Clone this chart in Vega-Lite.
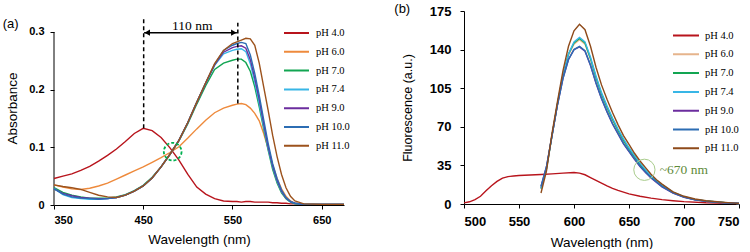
{
"$schema": "https://vega.github.io/schema/vega-lite/v6.json",
"background": "white",
"padding": {"left": 2, "top": 2, "right": 0, "bottom": 0},
"spacing": 44,
"align": "none",
"config": {
  "view": {"stroke": null},
  "axis": {"grid": false, "domainColor": "#000", "tickColor": "#000", "labelColor": "#000", "titleColor": "#000", "labelFont": "Liberation Sans", "labelFontWeight": "bold", "titleFont": "Liberation Sans", "titleFontWeight": "normal", "tickSize": 4, "domainWidth": 1, "labelOverlap": false},
  "title": {"font": "Liberation Sans", "fontSize": 13.5, "fontWeight": "normal", "color": "#000"}
},
"resolve": {"scale": {"color": "independent", "x": "independent", "y": "independent"}, "legend": {"color": "independent"}},
"datasets": {
"abs": [
{"p":"pH 4.0","w":350,"a":0.046},{"p":"pH 4.0","w":360,"a":0.050},{"p":"pH 4.0","w":370,"a":0.054},{"p":"pH 4.0","w":380,"a":0.060},{"p":"pH 4.0","w":390,"a":0.067},{"p":"pH 4.0","w":400,"a":0.076},{"p":"pH 4.0","w":410,"a":0.086},{"p":"pH 4.0","w":420,"a":0.097},{"p":"pH 4.0","w":430,"a":0.110},{"p":"pH 4.0","w":440,"a":0.124},{"p":"pH 4.0","w":450,"a":0.133},{"p":"pH 4.0","w":460,"a":0.129},{"p":"pH 4.0","w":470,"a":0.117},{"p":"pH 4.0","w":480,"a":0.099},{"p":"pH 4.0","w":490,"a":0.078},{"p":"pH 4.0","w":500,"a":0.053},{"p":"pH 4.0","w":510,"a":0.031},{"p":"pH 4.0","w":520,"a":0.019},{"p":"pH 4.0","w":530,"a":0.011},{"p":"pH 4.0","w":540,"a":0.007},{"p":"pH 4.0","w":550,"a":0.006},{"p":"pH 4.0","w":555,"a":0.006},{"p":"pH 4.0","w":560,"a":0.005},{"p":"pH 4.0","w":565,"a":0.006},{"p":"pH 4.0","w":570,"a":0.006},{"p":"pH 4.0","w":575,"a":0.005},{"p":"pH 4.0","w":580,"a":0.005},{"p":"pH 4.0","w":585,"a":0.005},{"p":"pH 4.0","w":590,"a":0.005},{"p":"pH 4.0","w":595,"a":0.004},{"p":"pH 4.0","w":600,"a":0.004},{"p":"pH 4.0","w":605,"a":0.003},{"p":"pH 4.0","w":610,"a":0.003},{"p":"pH 4.0","w":615,"a":0.002},{"p":"pH 4.0","w":620,"a":0.002},{"p":"pH 4.0","w":630,"a":0.001},{"p":"pH 4.0","w":650,"a":0.001},{"p":"pH 4.0","w":675,"a":0.001},
{"p":"pH 6.0","w":350,"a":0.035},{"p":"pH 6.0","w":360,"a":0.031},{"p":"pH 6.0","w":370,"a":0.028},{"p":"pH 6.0","w":380,"a":0.027},{"p":"pH 6.0","w":390,"a":0.029},{"p":"pH 6.0","w":400,"a":0.033},{"p":"pH 6.0","w":410,"a":0.038},{"p":"pH 6.0","w":420,"a":0.045},{"p":"pH 6.0","w":430,"a":0.052},{"p":"pH 6.0","w":440,"a":0.059},{"p":"pH 6.0","w":450,"a":0.066},{"p":"pH 6.0","w":460,"a":0.074},{"p":"pH 6.0","w":470,"a":0.082},{"p":"pH 6.0","w":480,"a":0.091},{"p":"pH 6.0","w":490,"a":0.101},{"p":"pH 6.0","w":500,"a":0.116},{"p":"pH 6.0","w":510,"a":0.132},{"p":"pH 6.0","w":520,"a":0.147},{"p":"pH 6.0","w":530,"a":0.160},{"p":"pH 6.0","w":540,"a":0.168},{"p":"pH 6.0","w":550,"a":0.173},{"p":"pH 6.0","w":555,"a":0.175},{"p":"pH 6.0","w":560,"a":0.176},{"p":"pH 6.0","w":565,"a":0.174},{"p":"pH 6.0","w":570,"a":0.168},{"p":"pH 6.0","w":575,"a":0.159},{"p":"pH 6.0","w":580,"a":0.146},{"p":"pH 6.0","w":585,"a":0.124},{"p":"pH 6.0","w":590,"a":0.098},{"p":"pH 6.0","w":595,"a":0.070},{"p":"pH 6.0","w":600,"a":0.046},{"p":"pH 6.0","w":605,"a":0.028},{"p":"pH 6.0","w":610,"a":0.015},{"p":"pH 6.0","w":615,"a":0.007},{"p":"pH 6.0","w":620,"a":0.003},{"p":"pH 6.0","w":630,"a":0.002},{"p":"pH 6.0","w":650,"a":0.001},{"p":"pH 6.0","w":675,"a":0.001},
{"p":"pH 7.0","w":350,"a":0.030},{"p":"pH 7.0","w":360,"a":0.022},{"p":"pH 7.0","w":370,"a":0.017},{"p":"pH 7.0","w":380,"a":0.014},{"p":"pH 7.0","w":390,"a":0.012},{"p":"pH 7.0","w":400,"a":0.012},{"p":"pH 7.0","w":410,"a":0.012},{"p":"pH 7.0","w":420,"a":0.014},{"p":"pH 7.0","w":430,"a":0.018},{"p":"pH 7.0","w":440,"a":0.025},{"p":"pH 7.0","w":450,"a":0.034},{"p":"pH 7.0","w":460,"a":0.048},{"p":"pH 7.0","w":470,"a":0.066},{"p":"pH 7.0","w":480,"a":0.088},{"p":"pH 7.0","w":490,"a":0.111},{"p":"pH 7.0","w":500,"a":0.141},{"p":"pH 7.0","w":510,"a":0.175},{"p":"pH 7.0","w":520,"a":0.207},{"p":"pH 7.0","w":530,"a":0.235},{"p":"pH 7.0","w":540,"a":0.246},{"p":"pH 7.0","w":550,"a":0.251},{"p":"pH 7.0","w":555,"a":0.253},{"p":"pH 7.0","w":560,"a":0.253},{"p":"pH 7.0","w":565,"a":0.247},{"p":"pH 7.0","w":570,"a":0.232},{"p":"pH 7.0","w":575,"a":0.205},{"p":"pH 7.0","w":580,"a":0.170},{"p":"pH 7.0","w":585,"a":0.132},{"p":"pH 7.0","w":590,"a":0.095},{"p":"pH 7.0","w":595,"a":0.062},{"p":"pH 7.0","w":600,"a":0.038},{"p":"pH 7.0","w":605,"a":0.021},{"p":"pH 7.0","w":610,"a":0.011},{"p":"pH 7.0","w":615,"a":0.005},{"p":"pH 7.0","w":620,"a":0.002},{"p":"pH 7.0","w":630,"a":0.001},{"p":"pH 7.0","w":650,"a":0.001},{"p":"pH 7.0","w":675,"a":0.001},
{"p":"pH 7.4","w":350,"a":0.029},{"p":"pH 7.4","w":360,"a":0.018},{"p":"pH 7.4","w":370,"a":0.013},{"p":"pH 7.4","w":380,"a":0.011},{"p":"pH 7.4","w":390,"a":0.010},{"p":"pH 7.4","w":400,"a":0.010},{"p":"pH 7.4","w":410,"a":0.011},{"p":"pH 7.4","w":420,"a":0.013},{"p":"pH 7.4","w":430,"a":0.017},{"p":"pH 7.4","w":440,"a":0.024},{"p":"pH 7.4","w":450,"a":0.033},{"p":"pH 7.4","w":460,"a":0.047},{"p":"pH 7.4","w":470,"a":0.066},{"p":"pH 7.4","w":480,"a":0.088},{"p":"pH 7.4","w":490,"a":0.112},{"p":"pH 7.4","w":500,"a":0.143},{"p":"pH 7.4","w":510,"a":0.178},{"p":"pH 7.4","w":520,"a":0.211},{"p":"pH 7.4","w":530,"a":0.242},{"p":"pH 7.4","w":540,"a":0.262},{"p":"pH 7.4","w":550,"a":0.268},{"p":"pH 7.4","w":555,"a":0.270},{"p":"pH 7.4","w":560,"a":0.271},{"p":"pH 7.4","w":565,"a":0.266},{"p":"pH 7.4","w":570,"a":0.245},{"p":"pH 7.4","w":575,"a":0.213},{"p":"pH 7.4","w":580,"a":0.176},{"p":"pH 7.4","w":585,"a":0.136},{"p":"pH 7.4","w":590,"a":0.098},{"p":"pH 7.4","w":595,"a":0.066},{"p":"pH 7.4","w":600,"a":0.041},{"p":"pH 7.4","w":605,"a":0.023},{"p":"pH 7.4","w":610,"a":0.012},{"p":"pH 7.4","w":615,"a":0.006},{"p":"pH 7.4","w":620,"a":0.003},{"p":"pH 7.4","w":630,"a":0.001},{"p":"pH 7.4","w":650,"a":0.001},{"p":"pH 7.4","w":675,"a":0.001},
{"p":"pH 9.0","w":350,"a":0.028},{"p":"pH 9.0","w":360,"a":0.020},{"p":"pH 9.0","w":370,"a":0.016},{"p":"pH 9.0","w":380,"a":0.013},{"p":"pH 9.0","w":390,"a":0.012},{"p":"pH 9.0","w":400,"a":0.011},{"p":"pH 9.0","w":410,"a":0.011},{"p":"pH 9.0","w":420,"a":0.013},{"p":"pH 9.0","w":430,"a":0.017},{"p":"pH 9.0","w":440,"a":0.024},{"p":"pH 9.0","w":450,"a":0.033},{"p":"pH 9.0","w":460,"a":0.047},{"p":"pH 9.0","w":470,"a":0.066},{"p":"pH 9.0","w":480,"a":0.088},{"p":"pH 9.0","w":490,"a":0.112},{"p":"pH 9.0","w":500,"a":0.143},{"p":"pH 9.0","w":510,"a":0.178},{"p":"pH 9.0","w":520,"a":0.211},{"p":"pH 9.0","w":530,"a":0.243},{"p":"pH 9.0","w":540,"a":0.265},{"p":"pH 9.0","w":550,"a":0.273},{"p":"pH 9.0","w":555,"a":0.275},{"p":"pH 9.0","w":560,"a":0.276},{"p":"pH 9.0","w":565,"a":0.272},{"p":"pH 9.0","w":570,"a":0.252},{"p":"pH 9.0","w":575,"a":0.220},{"p":"pH 9.0","w":580,"a":0.183},{"p":"pH 9.0","w":585,"a":0.141},{"p":"pH 9.0","w":590,"a":0.101},{"p":"pH 9.0","w":595,"a":0.068},{"p":"pH 9.0","w":600,"a":0.043},{"p":"pH 9.0","w":605,"a":0.024},{"p":"pH 9.0","w":610,"a":0.012},{"p":"pH 9.0","w":615,"a":0.006},{"p":"pH 9.0","w":620,"a":0.003},{"p":"pH 9.0","w":630,"a":0.001},{"p":"pH 9.0","w":650,"a":0.001},{"p":"pH 9.0","w":675,"a":0.001},
{"p":"pH 10.0","w":350,"a":0.028},{"p":"pH 10.0","w":360,"a":0.019},{"p":"pH 10.0","w":370,"a":0.014},{"p":"pH 10.0","w":380,"a":0.012},{"p":"pH 10.0","w":390,"a":0.011},{"p":"pH 10.0","w":400,"a":0.010},{"p":"pH 10.0","w":410,"a":0.011},{"p":"pH 10.0","w":420,"a":0.013},{"p":"pH 10.0","w":430,"a":0.017},{"p":"pH 10.0","w":440,"a":0.024},{"p":"pH 10.0","w":450,"a":0.033},{"p":"pH 10.0","w":460,"a":0.047},{"p":"pH 10.0","w":470,"a":0.066},{"p":"pH 10.0","w":480,"a":0.088},{"p":"pH 10.0","w":490,"a":0.112},{"p":"pH 10.0","w":500,"a":0.143},{"p":"pH 10.0","w":510,"a":0.178},{"p":"pH 10.0","w":520,"a":0.212},{"p":"pH 10.0","w":530,"a":0.244},{"p":"pH 10.0","w":540,"a":0.268},{"p":"pH 10.0","w":550,"a":0.277},{"p":"pH 10.0","w":555,"a":0.280},{"p":"pH 10.0","w":560,"a":0.282},{"p":"pH 10.0","w":565,"a":0.280},{"p":"pH 10.0","w":570,"a":0.260},{"p":"pH 10.0","w":575,"a":0.228},{"p":"pH 10.0","w":580,"a":0.190},{"p":"pH 10.0","w":585,"a":0.148},{"p":"pH 10.0","w":590,"a":0.107},{"p":"pH 10.0","w":595,"a":0.072},{"p":"pH 10.0","w":600,"a":0.046},{"p":"pH 10.0","w":605,"a":0.026},{"p":"pH 10.0","w":610,"a":0.013},{"p":"pH 10.0","w":615,"a":0.006},{"p":"pH 10.0","w":620,"a":0.003},{"p":"pH 10.0","w":630,"a":0.001},{"p":"pH 10.0","w":650,"a":0.001},{"p":"pH 10.0","w":675,"a":0.001},
{"p":"pH 11.0","w":350,"a":0.035},{"p":"pH 11.0","w":360,"a":0.032},{"p":"pH 11.0","w":370,"a":0.030},{"p":"pH 11.0","w":380,"a":0.027},{"p":"pH 11.0","w":390,"a":0.022},{"p":"pH 11.0","w":400,"a":0.017},{"p":"pH 11.0","w":410,"a":0.014},{"p":"pH 11.0","w":420,"a":0.013},{"p":"pH 11.0","w":430,"a":0.017},{"p":"pH 11.0","w":440,"a":0.024},{"p":"pH 11.0","w":450,"a":0.033},{"p":"pH 11.0","w":460,"a":0.047},{"p":"pH 11.0","w":470,"a":0.066},{"p":"pH 11.0","w":480,"a":0.088},{"p":"pH 11.0","w":490,"a":0.112},{"p":"pH 11.0","w":500,"a":0.143},{"p":"pH 11.0","w":510,"a":0.178},{"p":"pH 11.0","w":520,"a":0.212},{"p":"pH 11.0","w":530,"a":0.245},{"p":"pH 11.0","w":540,"a":0.268},{"p":"pH 11.0","w":550,"a":0.280},{"p":"pH 11.0","w":555,"a":0.283},{"p":"pH 11.0","w":560,"a":0.286},{"p":"pH 11.0","w":565,"a":0.289},{"p":"pH 11.0","w":570,"a":0.288},{"p":"pH 11.0","w":575,"a":0.277},{"p":"pH 11.0","w":580,"a":0.246},{"p":"pH 11.0","w":585,"a":0.205},{"p":"pH 11.0","w":590,"a":0.164},{"p":"pH 11.0","w":595,"a":0.121},{"p":"pH 11.0","w":600,"a":0.084},{"p":"pH 11.0","w":605,"a":0.053},{"p":"pH 11.0","w":610,"a":0.030},{"p":"pH 11.0","w":615,"a":0.015},{"p":"pH 11.0","w":620,"a":0.007},{"p":"pH 11.0","w":630,"a":0.002},{"p":"pH 11.0","w":650,"a":0.001},{"p":"pH 11.0","w":675,"a":0.001}
],
"fl": [
{"p":"pH 4.0","w":500,"f":1},{"p":"pH 4.0","w":505,"f":2},{"p":"pH 4.0","w":510,"f":4},{"p":"pH 4.0","w":515,"f":7},{"p":"pH 4.0","w":520,"f":12},{"p":"pH 4.0","w":525,"f":16.5},{"p":"pH 4.0","w":530,"f":20.5},{"p":"pH 4.0","w":535,"f":23.5},{"p":"pH 4.0","w":540,"f":24.8},{"p":"pH 4.0","w":545,"f":25.4},{"p":"pH 4.0","w":550,"f":25.8},{"p":"pH 4.0","w":560,"f":26.3},{"p":"pH 4.0","w":570,"f":26.8},{"p":"pH 4.0","w":580,"f":27.3},{"p":"pH 4.0","w":590,"f":28},{"p":"pH 4.0","w":600,"f":28.6},{"p":"pH 4.0","w":605,"f":28},{"p":"pH 4.0","w":610,"f":26.5},{"p":"pH 4.0","w":615,"f":24},{"p":"pH 4.0","w":620,"f":21.5},{"p":"pH 4.0","w":625,"f":19},{"p":"pH 4.0","w":630,"f":16.5},{"p":"pH 4.0","w":635,"f":14.2},{"p":"pH 4.0","w":640,"f":12.3},{"p":"pH 4.0","w":650,"f":9.2},{"p":"pH 4.0","w":660,"f":7},{"p":"pH 4.0","w":670,"f":5.3},{"p":"pH 4.0","w":680,"f":4},{"p":"pH 4.0","w":690,"f":3},{"p":"pH 4.0","w":700,"f":2.2},{"p":"pH 4.0","w":720,"f":1.1},{"p":"pH 4.0","w":740,"f":0.6},{"p":"pH 4.0","w":750,"f":0.4},
{"p":"pH 6.0","w":570,"f":14},{"p":"pH 6.0","w":575,"f":32},{"p":"pH 6.0","w":580,"f":62},{"p":"pH 6.0","w":585,"f":91},{"p":"pH 6.0","w":590,"f":116},{"p":"pH 6.0","w":595,"f":135},{"p":"pH 6.0","w":600,"f":145},{"p":"pH 6.0","w":605,"f":149},{"p":"pH 6.0","w":610,"f":145},{"p":"pH 6.0","w":615,"f":131},{"p":"pH 6.0","w":620,"f":114},{"p":"pH 6.0","w":625,"f":99},{"p":"pH 6.0","w":630,"f":87},{"p":"pH 6.0","w":635,"f":76},{"p":"pH 6.0","w":640,"f":66},{"p":"pH 6.0","w":645,"f":57},{"p":"pH 6.0","w":650,"f":49},{"p":"pH 6.0","w":655,"f":42},{"p":"pH 6.0","w":660,"f":35.5},{"p":"pH 6.0","w":665,"f":29.5},{"p":"pH 6.0","w":670,"f":24.5},{"p":"pH 6.0","w":675,"f":20.5},{"p":"pH 6.0","w":680,"f":16.5},{"p":"pH 6.0","w":690,"f":10.3},{"p":"pH 6.0","w":700,"f":6.4},{"p":"pH 6.0","w":710,"f":4},{"p":"pH 6.0","w":720,"f":2.7},{"p":"pH 6.0","w":730,"f":1.8},{"p":"pH 6.0","w":740,"f":1},{"p":"pH 6.0","w":750,"f":0.5},
{"p":"pH 7.0","w":570,"f":14},{"p":"pH 7.0","w":575,"f":32},{"p":"pH 7.0","w":580,"f":62},{"p":"pH 7.0","w":585,"f":91},{"p":"pH 7.0","w":590,"f":117},{"p":"pH 7.0","w":595,"f":136},{"p":"pH 7.0","w":600,"f":146},{"p":"pH 7.0","w":605,"f":150},{"p":"pH 7.0","w":610,"f":146},{"p":"pH 7.0","w":615,"f":132},{"p":"pH 7.0","w":620,"f":115},{"p":"pH 7.0","w":625,"f":100},{"p":"pH 7.0","w":630,"f":88},{"p":"pH 7.0","w":635,"f":77},{"p":"pH 7.0","w":640,"f":67},{"p":"pH 7.0","w":645,"f":58},{"p":"pH 7.0","w":650,"f":50},{"p":"pH 7.0","w":655,"f":43},{"p":"pH 7.0","w":660,"f":36},{"p":"pH 7.0","w":665,"f":30},{"p":"pH 7.0","w":670,"f":25},{"p":"pH 7.0","w":675,"f":21},{"p":"pH 7.0","w":680,"f":17},{"p":"pH 7.0","w":690,"f":10.5},{"p":"pH 7.0","w":700,"f":6.5},{"p":"pH 7.0","w":710,"f":4},{"p":"pH 7.0","w":720,"f":2.7},{"p":"pH 7.0","w":730,"f":1.8},{"p":"pH 7.0","w":740,"f":1},{"p":"pH 7.0","w":750,"f":0.5},
{"p":"pH 7.4","w":570,"f":14},{"p":"pH 7.4","w":575,"f":32},{"p":"pH 7.4","w":580,"f":62},{"p":"pH 7.4","w":585,"f":91},{"p":"pH 7.4","w":590,"f":117},{"p":"pH 7.4","w":595,"f":136},{"p":"pH 7.4","w":600,"f":147},{"p":"pH 7.4","w":605,"f":151},{"p":"pH 7.4","w":610,"f":147},{"p":"pH 7.4","w":615,"f":133},{"p":"pH 7.4","w":620,"f":116},{"p":"pH 7.4","w":625,"f":101},{"p":"pH 7.4","w":630,"f":89},{"p":"pH 7.4","w":635,"f":78},{"p":"pH 7.4","w":640,"f":68},{"p":"pH 7.4","w":645,"f":59},{"p":"pH 7.4","w":650,"f":51},{"p":"pH 7.4","w":655,"f":44},{"p":"pH 7.4","w":660,"f":37},{"p":"pH 7.4","w":665,"f":31},{"p":"pH 7.4","w":670,"f":25.5},{"p":"pH 7.4","w":675,"f":21.5},{"p":"pH 7.4","w":680,"f":17.5},{"p":"pH 7.4","w":690,"f":10.8},{"p":"pH 7.4","w":700,"f":6.6},{"p":"pH 7.4","w":710,"f":4.1},{"p":"pH 7.4","w":720,"f":2.7},{"p":"pH 7.4","w":730,"f":1.8},{"p":"pH 7.4","w":740,"f":1},{"p":"pH 7.4","w":750,"f":0.5},
{"p":"pH 9.0","w":570,"f":16},{"p":"pH 9.0","w":575,"f":34},{"p":"pH 9.0","w":580,"f":62},{"p":"pH 9.0","w":585,"f":90},{"p":"pH 9.0","w":590,"f":114},{"p":"pH 9.0","w":595,"f":131},{"p":"pH 9.0","w":600,"f":140},{"p":"pH 9.0","w":605,"f":142.5},{"p":"pH 9.0","w":610,"f":138.5},{"p":"pH 9.0","w":615,"f":125.5},{"p":"pH 9.0","w":620,"f":109.5},{"p":"pH 9.0","w":625,"f":95.5},{"p":"pH 9.0","w":630,"f":83.5},{"p":"pH 9.0","w":635,"f":72.5},{"p":"pH 9.0","w":640,"f":63.5},{"p":"pH 9.0","w":645,"f":54.5},{"p":"pH 9.0","w":650,"f":47.5},{"p":"pH 9.0","w":655,"f":40.5},{"p":"pH 9.0","w":660,"f":34},{"p":"pH 9.0","w":665,"f":28.5},{"p":"pH 9.0","w":670,"f":23.5},{"p":"pH 9.0","w":675,"f":19.5},{"p":"pH 9.0","w":680,"f":15.5},{"p":"pH 9.0","w":690,"f":9.8},{"p":"pH 9.0","w":700,"f":6},{"p":"pH 9.0","w":710,"f":3.7},{"p":"pH 9.0","w":720,"f":2.4},{"p":"pH 9.0","w":730,"f":1.5},{"p":"pH 9.0","w":740,"f":1},{"p":"pH 9.0","w":750,"f":0.5},
{"p":"pH 10.0","w":570,"f":16},{"p":"pH 10.0","w":575,"f":34},{"p":"pH 10.0","w":580,"f":62},{"p":"pH 10.0","w":585,"f":90},{"p":"pH 10.0","w":590,"f":114},{"p":"pH 10.0","w":595,"f":131},{"p":"pH 10.0","w":600,"f":140},{"p":"pH 10.0","w":605,"f":143},{"p":"pH 10.0","w":610,"f":139},{"p":"pH 10.0","w":615,"f":126},{"p":"pH 10.0","w":620,"f":110},{"p":"pH 10.0","w":625,"f":96},{"p":"pH 10.0","w":630,"f":84},{"p":"pH 10.0","w":635,"f":73},{"p":"pH 10.0","w":640,"f":64},{"p":"pH 10.0","w":645,"f":55},{"p":"pH 10.0","w":650,"f":48},{"p":"pH 10.0","w":655,"f":41},{"p":"pH 10.0","w":660,"f":34.5},{"p":"pH 10.0","w":665,"f":29},{"p":"pH 10.0","w":670,"f":24},{"p":"pH 10.0","w":675,"f":20},{"p":"pH 10.0","w":680,"f":16},{"p":"pH 10.0","w":690,"f":10},{"p":"pH 10.0","w":700,"f":6.2},{"p":"pH 10.0","w":710,"f":3.8},{"p":"pH 10.0","w":720,"f":2.5},{"p":"pH 10.0","w":730,"f":1.6},{"p":"pH 10.0","w":740,"f":1},{"p":"pH 10.0","w":750,"f":0.5},
{"p":"pH 11.0","w":570,"f":10},{"p":"pH 11.0","w":575,"f":30},{"p":"pH 11.0","w":580,"f":64},{"p":"pH 11.0","w":585,"f":93},{"p":"pH 11.0","w":590,"f":121},{"p":"pH 11.0","w":595,"f":143},{"p":"pH 11.0","w":600,"f":157},{"p":"pH 11.0","w":605,"f":163},{"p":"pH 11.0","w":610,"f":158},{"p":"pH 11.0","w":615,"f":143},{"p":"pH 11.0","w":620,"f":124},{"p":"pH 11.0","w":625,"f":108},{"p":"pH 11.0","w":630,"f":95},{"p":"pH 11.0","w":635,"f":83},{"p":"pH 11.0","w":640,"f":72},{"p":"pH 11.0","w":645,"f":62},{"p":"pH 11.0","w":650,"f":54},{"p":"pH 11.0","w":655,"f":46},{"p":"pH 11.0","w":660,"f":39},{"p":"pH 11.0","w":665,"f":33},{"p":"pH 11.0","w":670,"f":27},{"p":"pH 11.0","w":675,"f":22},{"p":"pH 11.0","w":680,"f":18},{"p":"pH 11.0","w":690,"f":11},{"p":"pH 11.0","w":700,"f":7},{"p":"pH 11.0","w":710,"f":4.5},{"p":"pH 11.0","w":720,"f":3},{"p":"pH 11.0","w":730,"f":2},{"p":"pH 11.0","w":740,"f":1.2},{"p":"pH 11.0","w":750,"f":0.6}
]
},
"hconcat": [
{
  "width": 290, "height": 194,
  "title": {"text": "(a)", "anchor": "start", "frame": "bounds", "offset": -20, "dx": -3, "fontSize": 13},
  "layer": [
    {
      "data": {"values": [{"w": 350, "y1": 0, "y2": 0.3}]},
      "mark": {"type": "rule", "strokeWidth": 1, "color": "#000"},
      "encoding": {"x": {"field": "w", "type": "quantitative"}, "y": {"field": "y1", "type": "quantitative"}, "y2": {"field": "y2"}}
    },
    {
      "data": {"name": "abs"},
      "mark": {"type": "line", "strokeWidth": 1.4},
      "encoding": {
        "x": {"field": "w", "type": "quantitative", "scale": {"domain": [350, 675], "nice": false, "zero": false},
              "axis": {"values": [350, 450, 550, 650], "tickCount": 10, "title": "Wavelength (nm)", "labelFontSize": 11, "titleFontSize": 13.5, "labelPadding": 5, "titlePadding": 7}},
        "y": {"field": "a", "type": "quantitative", "scale": {"domain": [0, 0.3364], "nice": false},
              "axis": {"values": [0, 0.1, 0.2, 0.3], "tickCount": 10, "format": ".1~f", "domain": false, "labelOverlap": false, "title": "Absorbance", "labelFontSize": 11, "titleFontSize": 13.5, "labelPadding": 6, "titlePadding": 9}},
        "color": {"field": "p", "type": "nominal",
          "scale": {"domain": ["pH 4.0", "pH 6.0", "pH 7.0", "pH 7.4", "pH 9.0", "pH 10.0", "pH 11.0"],
                    "range": ["#B8141C", "#EE8A3C", "#12A552", "#38B6E6", "#6B2D9E", "#2C6DB3", "#9C521C"]},
          "legend": {"title": null, "orient": "none", "legendX": 229, "legendY": 17, "symbolType": "stroke", "symbolSize": 625, "symbolStrokeWidth": 2, "clipHeight": 10, "rowPadding": 7.8, "labelFont": "Liberation Serif", "labelFontSize": 10.5, "labelColor": "#000", "labelOffset": 6, "padding": 0}}
      }
    },
    {
      "data": {"values": [{"w": 450.5, "y1": 0.133, "y2": 0.3225}, {"w": 556, "y1": 0.176, "y2": 0.316}]},
      "mark": {"type": "rule", "strokeDash": [4, 3], "strokeWidth": 1.5, "color": "#000"},
      "encoding": {"x": {"field": "w", "type": "quantitative"}, "y": {"field": "y1", "type": "quantitative"}, "y2": {"field": "y2"}}
    },
    {
      "data": {"values": [{"w1": 451, "w2": 555, "y": 0.2988}]},
      "mark": {"type": "rule", "strokeWidth": 1.5, "color": "#000"},
      "encoding": {"x": {"field": "w1", "type": "quantitative"}, "x2": {"field": "w2"}, "y": {"field": "y", "type": "quantitative"}}
    },
    {
      "data": {"values": [{"w": 454.5, "y": 0.2988, "s": "triangle-left"}, {"w": 551.5, "y": 0.2988, "s": "triangle-right"}]},
      "mark": {"type": "point", "filled": true, "size": 40, "color": "#000", "opacity": 1},
      "encoding": {"x": {"field": "w", "type": "quantitative"}, "y": {"field": "y", "type": "quantitative"}, "shape": {"field": "s", "type": "nominal", "scale": null}}
    },
    {
      "data": {"values": [{"w": 505, "y": 0.311, "t": "110 nm"}]},
      "mark": {"type": "text", "font": "Liberation Serif", "fontSize": 13.5, "color": "#000", "baseline": "middle", "align": "center"},
      "encoding": {"x": {"field": "w", "type": "quantitative"}, "y": {"field": "y", "type": "quantitative"}, "text": {"field": "t"}}
    },
    {
      "data": {"values": [{"w": 483, "y": 0.0925}]},
      "mark": {"type": "point", "filled": false, "size": 314, "color": "#00B050", "strokeWidth": 1.8, "strokeDash": [3, 2], "opacity": 1},
      "encoding": {"x": {"field": "w", "type": "quantitative"}, "y": {"field": "y", "type": "quantitative"}}
    }
  ]
},
{
  "width": 275, "height": 193,
  "title": {"text": "(b)", "anchor": "start", "frame": "bounds", "offset": -10.5, "dx": -7, "fontSize": 13},
  "layer": [
    {
      "data": {"name": "fl"},
      "mark": {"type": "line", "strokeWidth": 1.4},
      "encoding": {
        "x": {"field": "w", "type": "quantitative", "scale": {"domain": [500, 750], "nice": false, "zero": false},
              "axis": {"values": [500, 550, 600, 650, 700, 750], "tickCount": 10, "format": "d", "title": "Wavelength (nm)", "labelFontSize": 13, "titleFontSize": 13.5, "labelPadding": 7, "titlePadding": 7}},
        "y": {"field": "f", "type": "quantitative", "scale": {"domain": [0, 175], "nice": false},
              "axis": {"values": [0, 35, 70, 105, 140, 175], "tickCount": 10, "format": "d", "labelOverlap": false, "title": "Fluorescence (a.u.)", "labelFontSize": 13, "titleFontSize": 12.5, "labelPadding": 9, "titlePadding": 15}},
        "color": {"field": "p", "type": "nominal",
          "scale": {"domain": ["pH 4.0", "pH 6.0", "pH 7.0", "pH 7.4", "pH 9.0", "pH 10.0", "pH 11.0"],
                    "range": ["#B8141C", "#E6B48C", "#12A552", "#38B6E6", "#6B2D9E", "#2C6DB3", "#8E4A1A"]},
          "legend": {"title": null, "orient": "none", "legendX": 208, "legendY": 19.5, "symbolType": "stroke", "symbolSize": 676, "symbolStrokeWidth": 2, "clipHeight": 10, "rowPadding": 7.8, "labelFont": "Liberation Serif", "labelFontSize": 10.5, "labelColor": "#000", "labelOffset": 5, "padding": 0}}
      }
    },
    {
      "data": {"values": [{"w": 664, "f": 31}]},
      "mark": {"type": "point", "filled": false, "size": 452, "color": "#A9CC8C", "strokeWidth": 1, "opacity": 1},
      "encoding": {"x": {"field": "w", "type": "quantitative"}, "y": {"field": "f", "type": "quantitative"}}
    },
    {
      "data": {"values": [{"w": 678, "f": 31, "t": "~670 nm"}]},
      "mark": {"type": "text", "font": "Liberation Serif", "fontSize": 13.5, "color": "#5E8A3A", "baseline": "middle", "align": "left"},
      "encoding": {"x": {"field": "w", "type": "quantitative"}, "y": {"field": "f", "type": "quantitative"}, "text": {"field": "t"}}
    }
  ]
}
]
}
